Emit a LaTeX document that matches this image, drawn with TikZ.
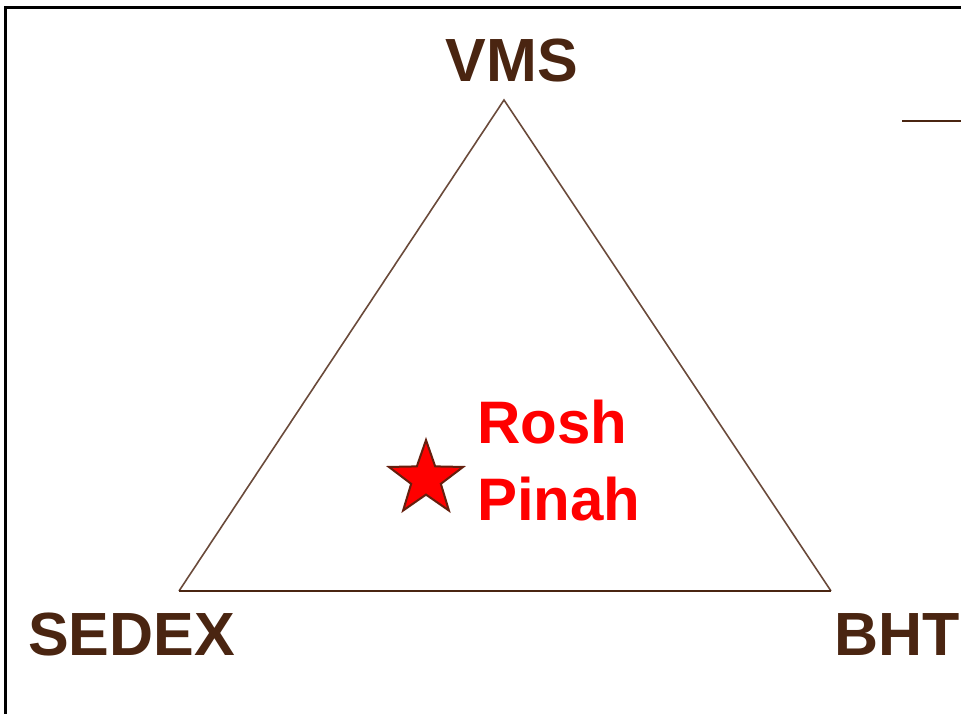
\documentclass[tikz,border=0pt]{standalone}
\usepackage{fontspec}
\setmainfont{Liberation Sans}
\usetikzlibrary{shapes.geometric}
\definecolor{brn}{HTML}{4A2511}
\definecolor{edge}{HTML}{6A4A3A}
\tikzset{
  lbl/.style={inner sep=0pt, text=brn, font=\fontsize{61}{70}\selectfont\bfseries},
  redlbl/.style={inner sep=0pt, text=red, font=\fontsize{60}{70}\selectfont\bfseries},
  side/.style={draw=edge, line width=1.6pt},
}
\begin{document}
\begin{tikzpicture}[x=1pt,y=-1pt]
\useasboundingbox (0,0) rectangle (961,713);
\begin{scope}
\clip (0,0) rectangle (961,713);
\draw[black, line width=2.6pt] (5.5,7.5) rectangle (1000,760);
\coordinate (ls) at (902,121);
\coordinate (le) at (970,121);
\draw[brn, line width=2.6pt] (ls) -- (le);
\end{scope}
\coordinate (top) at (504,100);
\coordinate (left) at (179,591);
\coordinate (right) at (831,591);
\draw[side] (left) -- (top) -- (right);
\draw[brn, line width=2pt] (left) -- (right);
\node[lbl, anchor=base] (vms) at (512,81) {VMS};
\node[lbl, anchor=base west] (sedex) at (28,655) {SEDEX};
\node[lbl, anchor=base west] (bht) at (834,655) {BHT};
\node[redlbl, anchor=base west] (rosh) at (477,443) {Rosh};
\node[redlbl, anchor=base west] (pinah) at (477,520) {Pinah};
\node[star, star points=5, star point ratio=2.5, minimum size=78pt, inner sep=0pt, fill=red, draw=brn!85!red, line width=2pt] (st) at (426,479) {};
\end{tikzpicture}
\end{document}
